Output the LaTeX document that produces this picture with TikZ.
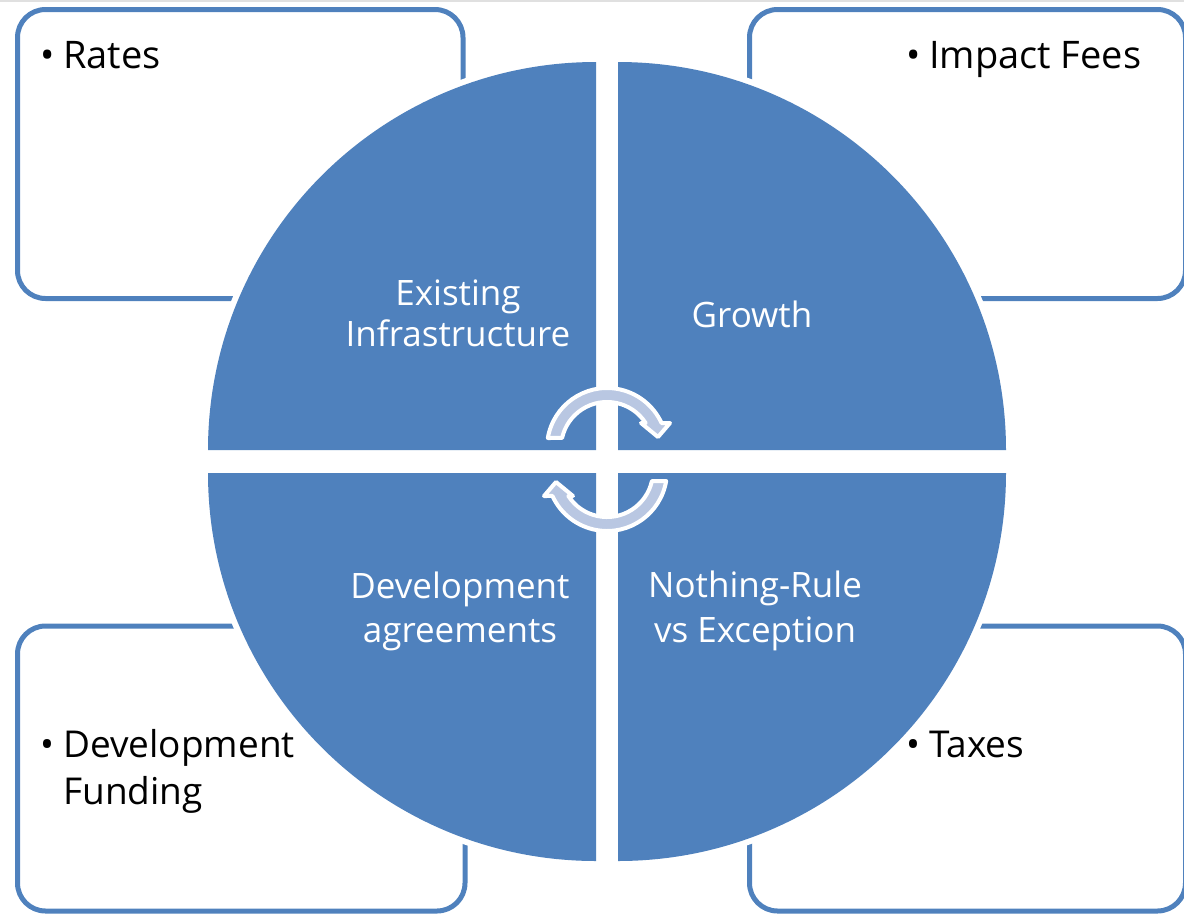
\documentclass[tikz,border=0pt]{standalone}
\usepackage{fontspec}
\setmainfont{Open Sans}
\definecolor{qblue}{HTML}{4F81BD}
\definecolor{arrfill}{HTML}{B9C7E2}
\newcommand\bulmark{\makebox[23pt][l]{\textbullet}}
\newcommand\cyclearrowpath{(547.84,-438) arc[start angle=170.4,end angle=24.6,radius=60] -- (670,-423) -- (658,-437) -- (641,-423) -- (645.62,-423) arc[start angle=32.9,end angle=167.4,radius=46] -- cycle}
\begin{document}
\begin{tikzpicture}[x=1pt,y=1pt,
  box/.style={draw=qblue,line width=5pt,rounded corners=28pt},
  quad/.style={fill=qblue,preaction={draw=white,line width=12pt,line join=round}},
  cyc/.style={fill=arrfill,draw=white,line width=4pt,line join=round},
  intext/.style={text=white,inner sep=0pt},
  outtext/.style={text=black,inner sep=0pt}]
\useasboundingbox (0,0) rectangle (1184,-914);
\fill[black!12] (0,0) rectangle (1184,-2);
% boxes
\draw[box] (17.5,-9.5) rectangle (463,-298.5);
\draw[box] (749.5,-9.5) rectangle (1185.5,-298.5);
\draw[box] (17.5,-626) rectangle (465,-911);
\draw[box] (749.5,-626) rectangle (1185.5,-911);
% quadrants
\path[quad] (596,-450) -- (208,-450) arc[start angle=180,end angle=90,radius=388] -- cycle;
\path[quad] (618,-450) -- (618,-62) arc[start angle=90,end angle=0,radius=388] -- cycle;
\path[quad] (596,-473) -- (208,-473) arc[start angle=180,end angle=270,radius=388] -- cycle;
\path[quad] (618,-473) -- (1006,-473) arc[start angle=0,end angle=-90,radius=388] -- cycle;
% cycle arrows
\path[cyc] \cyclearrowpath;
\begin{scope}[rotate around={180:(607,-459.5)}]
\path[cyc] \cyclearrowpath;
\end{scope}
% quadrant texts
\node[intext,anchor=base,font=\fontsize{35}{41}\selectfont] (existing) at (458,-346)
  {\begin{tabular}[b]{@{}c@{}}Existing\\Infrastructure\end{tabular}};
\node[intext,anchor=base,font=\fontsize{35}{41}\selectfont] (growth) at (752,-327) {Growth};
\node[intext,anchor=base,font=\fontsize{35}{44}\selectfont] (devagr) at (460,-642)
  {\begin{tabular}[b]{@{}c@{}}Development\\agreements\end{tabular}};
\node[intext,anchor=base,font=\fontsize{35}{45}\selectfont] (nothing) at (755,-642)
  {\begin{tabular}[b]{@{}c@{}}Nothing-Rule\\vs Exception\end{tabular}};
% box texts
\node[outtext,anchor=base west,font=\fontsize{38}{48}\selectfont] (rates) at (40,-68) {\bulmark Rates};
\node[outtext,anchor=base west,font=\fontsize{38}{48}\selectfont] (impact) at (906,-68) {\bulmark Impact Fees};
\node[outtext,anchor=base west,font=\fontsize{37}{47}\selectfont] (devfund) at (40,-757)
  {\begin{tabular}[t]{@{}l@{}}\bulmark Development\\\hspace*{23pt}Funding\end{tabular}};
\node[outtext,anchor=base west,font=\fontsize{37}{47}\selectfont] (taxes) at (906,-757) {\bulmark Taxes};
\end{tikzpicture}
\end{document}
